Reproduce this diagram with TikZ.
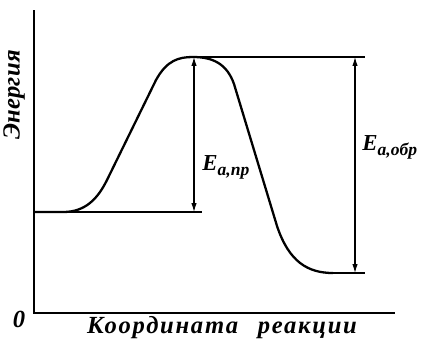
\documentclass[tikz,border=0pt]{standalone}
\usepackage{fontspec}
\setmainfont{Liberation Serif}
\usetikzlibrary{arrows.meta}

\tikzset{
  axisline/.style={line width=1.2pt},
  curveline/.style={line width=1.3pt, line join=round},
  levelline/.style={line width=0.8pt},
  earrow/.style={{Latex[length=5pt,width=3pt]}-{Latex[length=5pt,width=3pt]}, line width=0.6pt},
  axislbl/.style={font=\fontsize{14}{16}\selectfont\itshape\bfseries},
  elbl/.style={font=\fontsize{13}{15}\selectfont\itshape\bfseries, inner sep=0pt}
}

\begin{document}
\begin{tikzpicture}[x=0.02cm, y=-0.02cm]
  \useasboundingbox (0,0) rectangle (421,343);

  % Axes
  \coordinate (origin) at (34,313);
  \coordinate (ytop) at (34,10);
  \coordinate (xend) at (395,313);
  \draw[axisline] (ytop) -- (origin) -- (xend);
  \node[axislbl] (zero) at (19,319) {0};
  \node[axislbl, rotate=90] (ylbl) at (14,95) {\addfontfeatures{LetterSpace=1}Энергия};
  \node[axislbl] (xlbl) at (222,328) {\addfontfeatures{LetterSpace=7}Координата\hspace{0.8em}реакции};

  % Levels
  \coordinate (reac) at (34,212);
  \coordinate (reacend) at (202,212);
  \coordinate (peak) at (193,57);
  \coordinate (peakend) at (365,57);
  \coordinate (prod) at (333,273);
  \coordinate (prodend) at (365,273);
  \draw[levelline] (reac) -- (reacend);
  \draw[levelline] (peak) -- (peakend);
  \draw[levelline] (prod) -- (prodend);

  % Energy curve
  \draw[curveline] (reac) -- (63,212)
    .. controls (86,212) and (98,198) .. (107,180)
    -- (156,80)
    .. controls (167,60) and (179,57) .. (193,57)
    .. controls (213,57) and (227,64) .. (234,84)
    -- (277,226)
    .. controls (289,262) and (308,273) .. (prod);

  % Activation energies
  \coordinate (fwtop) at (194,57);
  \coordinate (fwbot) at (194,212);
  \coordinate (bwtop) at (355,57);
  \coordinate (bwbot) at (355,273);
  \draw[earrow] (fwtop) -- (fwbot);
  \draw[earrow] (bwtop) -- (bwbot);
  \node[elbl, anchor=west] (efw) at (202,167) {E\raisebox{-0.5ex}{\fontsize{10}{11}\selectfont a,пр}};
  \node[elbl, anchor=west] (ebw) at (362,147) {E\raisebox{-0.5ex}{\fontsize{10}{11}\selectfont a,обр}};
\end{tikzpicture}
\end{document}
